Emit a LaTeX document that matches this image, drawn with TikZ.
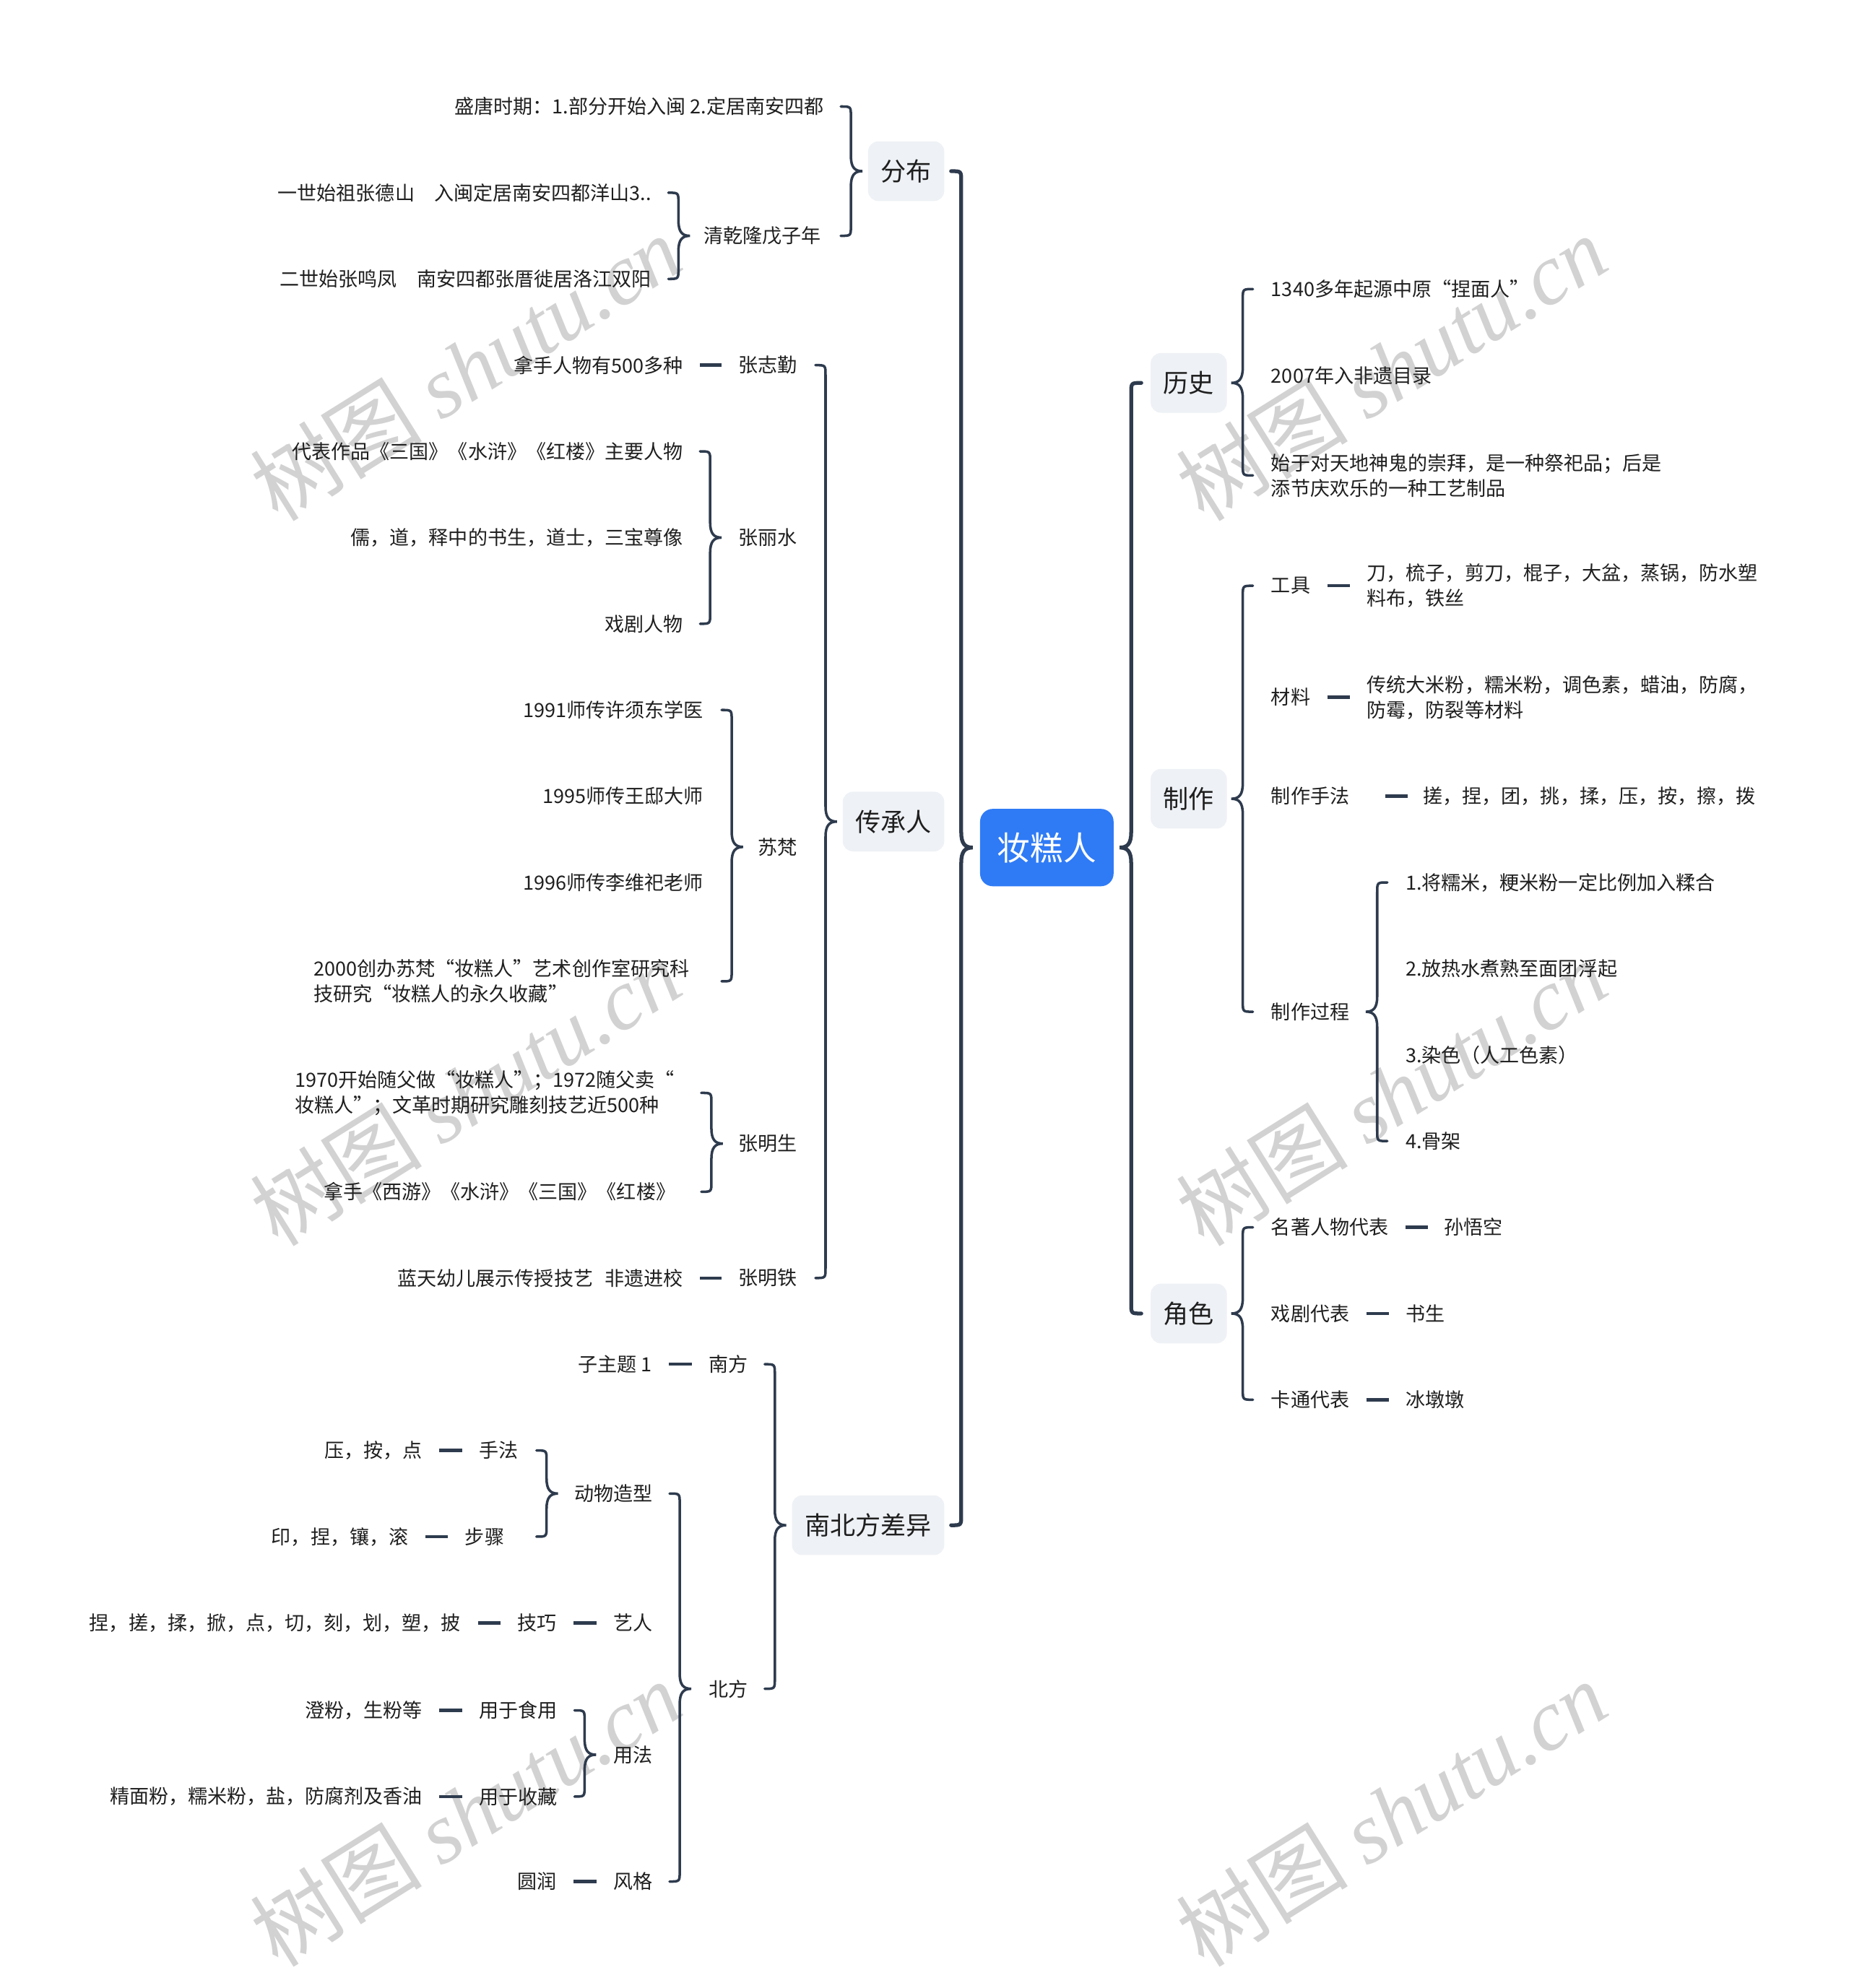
\documentclass[tikz,border=0pt]{standalone}
\usepackage{fontspec}
\setmainfont{Noto Sans CJK SC}
\newfontfamily\wmfont{Liberation Serif}
\usetikzlibrary{calc}
\definecolor{lnc}{HTML}{2E3B4E}
\definecolor{topf}{HTML}{EEF1F5}
\definecolor{rootf}{HTML}{2F7BF6}
\definecolor{txt}{HTML}{1F1F1F}
\definecolor{wmc}{HTML}{D2D2D2}
\tikzset{
  leaf/.style={inner sep=0pt, font=\fontsize{7.7}{10}\selectfont, text=txt},
  topic/.style={fill=topf, rounded corners=4pt, inner xsep=5pt, inner ysep=0pt, minimum height=23.5pt, font=\fontsize{10}{12}\selectfont, text=txt},
  rootnode/.style={fill=rootf, rounded corners=5pt, inner xsep=6.8pt, inner ysep=0pt, minimum height=30.5pt, font=\fontsize{13}{15}\selectfont, text=white},
  brc/.style={draw=lnc, line width=1pt, line cap=round},
  mainbrc/.style={draw=lnc, line width=1.5pt, line cap=round},
  dsh/.style={draw=lnc, line width=1.3pt},
  wmark/.style={text=wmc, rotate=32, inner sep=0pt, font=\fontsize{34}{40}\selectfont}
}
% brace with children on the left, parent on the right
\newcommand\BrL[5]{%
  \coordinate (sp) at (#2,0);
  \draw[#1] ($(#3.east -| sp)+(-8,0)$) .. controls ($(#3.east -| sp)$) .. ($(#3.east -| sp)+(0,8)$)
    -- ($(#5.west -| sp)+(0,-12)$) .. controls ($(#5.west -| sp)+(0,-3)$) and ($(#5.west -| sp)+(3,0)$) .. ($(#5.west -| sp)+(9,0)$)
    .. controls ($(#5.west -| sp)+(3,0)$) and ($(#5.west -| sp)+(0,3)$) .. ($(#5.west -| sp)+(0,12)$)
    -- ($(#4.east -| sp)+(0,-8)$) .. controls ($(#4.east -| sp)$) .. ($(#4.east -| sp)+(-8,0)$);
}
% brace with children on the right, parent on the left
\newcommand\BrR[5]{%
  \coordinate (sp) at (#2,0);
  \draw[#1] ($(#3.west -| sp)+(8,0)$) .. controls ($(#3.west -| sp)$) .. ($(#3.west -| sp)+(0,8)$)
    -- ($(#5.east -| sp)+(0,-12)$) .. controls ($(#5.east -| sp)+(0,-3)$) and ($(#5.east -| sp)+(-3,0)$) .. ($(#5.east -| sp)+(-9,0)$)
    .. controls ($(#5.east -| sp)+(-3,0)$) and ($(#5.east -| sp)+(0,3)$) .. ($(#5.east -| sp)+(0,12)$)
    -- ($(#4.west -| sp)+(0,-8)$) .. controls ($(#4.west -| sp)$) .. ($(#4.west -| sp)+(8,0)$);
}
\begin{document}
\begin{tikzpicture}[x=0.0175584cm, y=-0.0175584cm]
\useasboundingbox[fill=white] (0,0) rectangle (1458,1568);

% watermarks
\foreach \cx/\cy [count=\i] in {367/290, 1097/290, 367/862, 1097/862, 367/1430, 1097/1430}
  \node[wmark, name=wm\i] at (\cx,\cy) {树图 {\wmfont\itshape shutu.cn}};

% root and main topics
\node[rootnode] (root) at (825.5,668.5) {妆糕人};
\node[topic, anchor=east] (fb) at (745,135) {分布};
\node[topic, anchor=east] (ccr) at (745,648) {传承人};
\node[topic, anchor=east] (nb) at (745,1203) {南北方差异};
\node[topic, anchor=west] (ls) at (907,302) {历史};
\node[topic, anchor=west] (zz) at (907,630) {制作};
\node[topic, anchor=west] (js) at (907,1036) {角色};
\BrL{mainbrc}{758}{fb}{nb}{root}
\BrR{mainbrc}{892}{ls}{js}{root}

% ---- 分布
\node[leaf, anchor=east] (fb1) at (650,84) {盛唐时期：1.部分开始入闽 2.定居南安四都};
\node[leaf, anchor=east] (fb2) at (648,186) {清乾隆戊子年};
\node[leaf, anchor=east] (fb21) at (514,152) {一世始祖张德山　入闽定居南安四都洋山3..};
\node[leaf, anchor=east] (fb22) at (514,220) {二世始张鸣凤　南安四都张厝徙居洛江双阳};
\BrL{brc}{671}{fb1}{fb2}{fb}
\BrL{brc}{535}{fb21}{fb22}{fb2}

% ---- 传承人
\node[leaf, anchor=east] (zzq) at (629,288) {张志勤};
\node[leaf, anchor=east] (zzq1) at ($(zzq.west)+(-43,0)$) {拿手人物有500多种};
\draw[dsh] ($(zzq.west)+(-13,0)$) -- ($(zzq1.east)+(13,0)$);

\node[leaf, anchor=east] (zls) at (629,424) {张丽水};
\node[leaf, anchor=east] (zls1) at (539,356) {代表作品《三国》《水浒》《红楼》主要人物};
\node[leaf, anchor=east] (zls2) at (539,424) {儒，道，释中的书生，道士，三宝尊像};
\node[leaf, anchor=east] (zls3) at (539,492) {戏剧人物};
\BrL{brc}{560}{zls1}{zls3}{zls}

\node[leaf, anchor=east] (sf) at (629,668) {苏梵};
\node[leaf, anchor=east] (sf1) at (555,560) {1991师传许须东学医};
\node[leaf, anchor=east] (sf2) at (555,628) {1995师传王邸大师};
\node[leaf, anchor=east] (sf3) at (555,696) {1996师传李维祀老师};
\node[leaf, anchor=west, align=left] (sf4) at (247,774) {2000创办苏梵“妆糕人”艺术创作室研究科\\技研究“妆糕人的永久收藏”};
\BrL{brc}{577}{sf1}{sf4}{sf}

\node[leaf, anchor=east] (zms) at (629,902) {张明生};
\node[leaf, anchor=west, align=left] (zms1) at (232,862) {1970开始随父做“妆糕人”；1972随父卖“\\妆糕人”；文革时期研究雕刻技艺近500种};
\node[leaf, anchor=east] (zms2) at (533,940) {拿手《西游》《水浒》《三国》《红楼》};
\BrL{brc}{561}{zms1}{zms2}{zms}

\node[leaf, anchor=east] (zmt) at (629,1008) {张明铁};
\node[leaf, anchor=east] (zmt1) at ($(zmt.west)+(-43,0)$) {蓝天幼儿展示传授技艺\hspace{0.6em}非遗进校};
\draw[dsh] ($(zmt.west)+(-13,0)$) -- ($(zmt1.east)+(13,0)$);

\BrL{brc}{651}{zzq}{zmt}{ccr}

% ---- 南北方差异
\node[leaf, anchor=east] (nf) at (590,1076) {南方};
\node[leaf, anchor=east] (nf1) at ($(nf.west)+(-44,0)$) {子主题 1};
\draw[dsh] ($(nf.west)+(-13,0)$) -- ($(nf1.east)+(13,0)$);
\node[leaf, anchor=east] (bf) at (590,1332) {北方};
\BrL{brc}{611}{nf}{bf}{nb}

\node[leaf, anchor=east] (dw) at (515,1178) {动物造型};
\node[leaf, anchor=east] (shf) at (409,1144) {手法};
\node[leaf, anchor=east] (shf1) at ($(shf.west)+(-44,0)$) {压，按，点};
\draw[dsh] ($(shf.west)+(-13,0)$) -- ($(shf1.east)+(13,0)$);
\node[leaf, anchor=east] (bz) at (398,1212) {步骤};
\node[leaf, anchor=east] (bz1) at ($(bz.west)+(-44,0)$) {印，捏，镶，滚};
\draw[dsh] ($(bz.west)+(-13,0)$) -- ($(bz1.east)+(13,0)$);
\BrL{brc}{431}{shf}{bz}{dw}

\node[leaf, anchor=east] (yr) at (515,1280) {艺人};
\node[leaf, anchor=east] (jq) at ($(yr.west)+(-44,0)$) {技巧};
\node[leaf, anchor=east] (jq1) at ($(jq.west)+(-44,0)$) {捏，搓，揉，掀，点，切，刻，划，塑，披};
\draw[dsh] ($(yr.west)+(-13,0)$) -- ($(jq.east)+(13,0)$);
\draw[dsh] ($(jq.west)+(-13,0)$) -- ($(jq1.east)+(13,0)$);

\node[leaf, anchor=east] (yf) at (515,1384) {用法};
\node[leaf, anchor=east] (sy) at (440,1349) {用于食用};
\node[leaf, anchor=east] (sy1) at ($(sy.west)+(-44,0)$) {澄粉，生粉等};
\draw[dsh] ($(sy.west)+(-13,0)$) -- ($(sy1.east)+(13,0)$);
\node[leaf, anchor=east] (sc) at (440,1417) {用于收藏};
\node[leaf, anchor=east] (sc1) at ($(sc.west)+(-44,0)$) {精面粉，糯米粉，盐，防腐剂及香油};
\draw[dsh] ($(sc.west)+(-13,0)$) -- ($(sc1.east)+(13,0)$);
\BrL{brc}{461}{sy}{sc}{yf}

\node[leaf, anchor=east] (fg) at (515,1484) {风格};
\node[leaf, anchor=east] (fg1) at ($(fg.west)+(-44,0)$) {圆润};
\draw[dsh] ($(fg.west)+(-13,0)$) -- ($(fg1.east)+(13,0)$);

\BrL{brc}{536}{dw}{fg}{bf}

% ---- 历史
\node[leaf, anchor=west] (ls1) at (1002,228) {1340多年起源中原“捏面人”};
\node[leaf, anchor=west] (ls2) at (1002,296) {2007年入非遗目录};
\node[leaf, anchor=west, align=left] (ls3) at (1002,375) {始于对天地神鬼的崇拜，是一种祭祀品；后是\\添节庆欢乐的一种工艺制品};
\BrR{brc}{980}{ls1}{ls3}{ls}

% ---- 制作
\node[leaf, anchor=west] (gj) at (1002,462) {工具};
\node[leaf, anchor=west, align=left] (gj1) at ($(gj.east)+(44,0)$) {刀，梳子，剪刀，棍子，大盆，蒸锅，防水塑\\料布，铁丝};
\draw[dsh] ($(gj.east)+(13,0)$) -- ($(gj1.west)+(-13,0)$);
\node[leaf, anchor=west] (cl) at (1002,550) {材料};
\node[leaf, anchor=west, align=left] (cl1) at ($(cl.east)+(44,0)$) {传统大米粉，糯米粉，调色素，蜡油，防腐，\\防霉，防裂等材料};
\draw[dsh] ($(cl.east)+(13,0)$) -- ($(cl1.west)+(-13,0)$);
\node[leaf, anchor=west] (zzsf) at (1002,628) {制作手法};
\node[leaf, anchor=west] (zzsf1) at (1122,628) {搓，捏，团，挑，揉，压，按，擦，拨};
\draw[dsh] ($(zzsf.east)+(28,0)$) -- ($(zzsf1.west)+(-12,0)$);
\node[leaf, anchor=west] (zzgc) at (1002,798) {制作过程};
\node[leaf, anchor=west] (g1) at (1108,696) {1.将糯米，粳米粉一定比例加入糅合};
\node[leaf, anchor=west] (g2) at (1108,764) {2.放热水煮熟至面团浮起};
\node[leaf, anchor=west] (g3) at (1108,832) {3.染色（人工色素）};
\node[leaf, anchor=west] (g4) at (1108,900) {4.骨架};
\BrR{brc}{1086}{g1}{g4}{zzgc}
\BrR{brc}{980}{gj}{zzgc}{zz}

% ---- 角色
\node[leaf, anchor=west] (mz) at (1002,968) {名著人物代表};
\node[leaf, anchor=west] (mz1) at ($(mz.east)+(43,0)$) {孙悟空};
\draw[dsh] ($(mz.east)+(13,0)$) -- ($(mz1.west)+(-12,0)$);
\node[leaf, anchor=west] (xj) at (1002,1036) {戏剧代表};
\node[leaf, anchor=west] (xj1) at ($(xj.east)+(44,0)$) {书生};
\draw[dsh] ($(xj.east)+(13,0)$) -- ($(xj1.west)+(-13,0)$);
\node[leaf, anchor=west] (kt) at (1002,1104) {卡通代表};
\node[leaf, anchor=west] (kt1) at ($(kt.east)+(44,0)$) {冰墩墩};
\draw[dsh] ($(kt.east)+(13,0)$) -- ($(kt1.west)+(-13,0)$);
\BrR{brc}{980}{mz}{kt}{js}
\end{tikzpicture}
\end{document}
